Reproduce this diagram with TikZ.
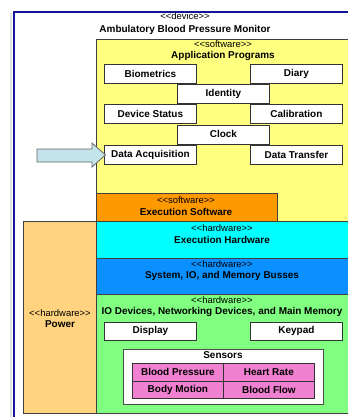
\documentclass[tikz,border=0pt]{standalone}
\usepackage{fontspec}
\setmainfont{Liberation Sans}
\definecolor{appY}{RGB}{255,255,128}
\definecolor{execSW}{RGB}{255,153,0}
\definecolor{powerC}{RGB}{255,211,128}
\definecolor{execHW}{RGB}{0,255,255}
\definecolor{busC}{RGB}{10,145,255}
\definecolor{ioG}{RGB}{128,255,128}
\definecolor{sensP}{RGB}{240,128,208}
\definecolor{frameB}{RGB}{20,20,150}
\definecolor{arrowC}{RGB}{195,228,232}
\newcommand\stereot[1]{<\kern0pt<#1>\kern0pt>}
\begin{document}
\begin{tikzpicture}[x=1bp,y=-1bp,
  lay/.style={draw=black!75, line width=0.8bp, inner sep=0pt, anchor=north west},
  box/.style={draw=black!80, fill=white, line width=0.8bp, inner sep=0pt, anchor=north west,
    minimum width=92bp, minimum height=19bp, font=\fontsize{10}{12}\selectfont\bfseries},
  cell/.style={draw=black!80, fill=sensP, line width=0.8bp, inner sep=0pt, anchor=north west,
    minimum width=91bp, minimum height=18bp, font=\fontsize{10}{12}\selectfont\bfseries},
  stereo/.style={inner sep=0pt, font=\fontsize{9.5}{11}\selectfont},
  title/.style={inner sep=0pt, font=\fontsize{10}{12}\selectfont\bfseries}]
\useasboundingbox (0,0) rectangle (348,417);
\clip (0,0) rectangle (348,417);
\fill[white] (0,0) rectangle (348,417);
% device frame
\draw[black!12, line width=2bp] (11,13) -- (11,440);
\node[draw=frameB, line width=2bp, inner sep=0pt, anchor=north west,
  minimum width=360bp, minimum height=440bp] (dev) at (13,11) {};
\node[stereo] (devst) at (185,16.5) {\stereot{device}};
\node[title] (devt) at (185,30) {Ambulatory Blood Pressure Monitor};
% application programs
\node[lay, fill=appY, minimum width=256bp, minimum height=182bp] (app) at (96,39) {};
\node[stereo] (appst) at (223,44) {\stereot{software}};
\node[title] (appt) at (223,56) {Application Programs};
\node[box] (bio) at (104,64) {Biometrics};
\node[box] (diary) at (250,64) {Diary};
\node[box] (ident) at (177,84) {Identity};
\node[box] (dstat) at (104,104) {Device Status};
\node[box] (calib) at (250,104) {Calibration};
\node[box] (clock) at (177,124.5) {Clock};
\node[box] (acq) at (104,145) {Data Acquisition};
\node[box] (xfer) at (250,145) {Data Transfer};
% arrow
\coordinate (arrtip) at ([xshift=1.5bp]acq.west);
\draw[draw=black!60, fill=arrowC, line width=0.8bp, line join=miter]
  (37,149) -- (92,149) -- (92,143) -- (arrtip) -- (92,167) -- (92,162) -- (37,162) -- cycle;
% execution software
\node[lay, fill=execSW, minimum width=181bp, minimum height=28bp] (esw) at (96,193) {};
\node[stereo] (eswst) at (186,200) {\stereot{software}};
\node[title] (eswt) at (186,211.5) {Execution Software};
% power
\node[lay, fill=powerC, minimum width=73bp, minimum height=192bp] (pow) at (23,221) {};
\node[stereo] (powst) at (60,313) {\stereot{hardware}};
\node[title] (powt) at (60,324) {Power};
% execution hardware
\node[lay, fill=execHW, minimum width=260bp, minimum height=37bp] (ehw) at (96,221) {};
\node[stereo] (ehwst) at (222,228) {\stereot{hardware}};
\node[title] (ehwt) at (222,239.5) {Execution Hardware};
% busses
\node[lay, fill=busC, minimum width=260bp, minimum height=36bp] (bus) at (96,258) {};
\node[stereo] (busst) at (222,264.5) {\stereot{hardware}};
\node[title] (bust) at (222,275.5) {System, IO, and Memory Busses};
% io devices
\node[lay, fill=ioG, minimum width=260bp, minimum height=119bp] (io) at (96,294) {};
\node[stereo] (iost) at (222,300.5) {\stereot{hardware}};
\node[title] (iot) at (222,312) {IO Devices, Networking Devices, and Main Memory};
\node[box, minimum height=18bp] (disp) at (104,322) {Display};
\node[box, minimum height=18bp] (keyp) at (250,322) {Keypad};
% sensors
\node[lay, draw=black!70, fill=white, minimum width=200bp, minimum height=55bp] (sens) at (123,349) {};
\node[title] (senst) at (223,355.5) {Sensors};
\node[cell] (bp) at (132,363) {Blood Pressure};
\node[cell] (hr) at (223,363) {Heart Rate};
\node[cell, minimum height=17bp] (bm) at (132,381) {Body Motion};
\node[cell, minimum height=17bp] (bf) at (223,381) {Blood Flow};
\end{tikzpicture}
\end{document}
